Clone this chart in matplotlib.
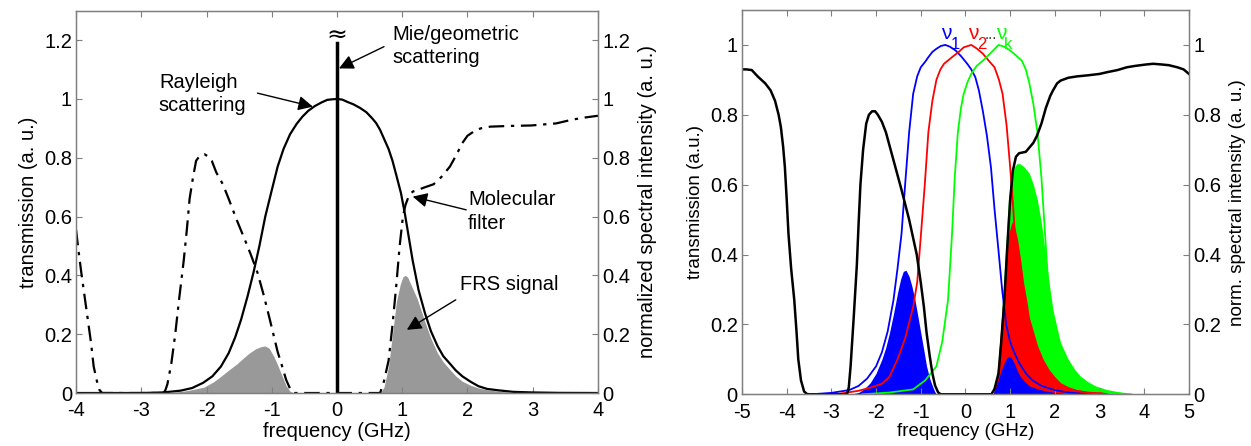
import matplotlib
matplotlib.use("Agg")
import matplotlib.pyplot as plt

plt.rcParams['font.family'] = ['Liberation Sans', 'DejaVu Sans']

# ---------------- left panel data (frequency in GHz) ----------------
ray_x = [-4, -3, -2.66, -2.4, -2.22, -2.05, -1.91, -1.78, -1.66, -1.56, -1.47, -1.37,
         -1.28, -1.19, -1.1, -1.0, -0.91, -0.82, -0.72, -0.62, -0.53, -0.44, -0.34,
         -0.24, -0.15, -0.07, 0, 0.08, 0.16, 0.25, 0.35, 0.45, 0.54, 0.6, 0.66, 0.72,
         0.79, 0.85, 0.91, 0.98, 1.04, 1.1, 1.16, 1.25, 1.35, 1.44, 1.54, 1.63, 1.73,
         1.82, 1.92, 2.05, 2.17, 2.3, 2.48, 2.7, 2.98, 3.4, 4]
ray_y = [0, 0, 0.002, 0.008, 0.017, 0.035, 0.057, 0.09, 0.136, 0.19, 0.25, 0.33,
         0.41, 0.50, 0.60, 0.69, 0.77, 0.83, 0.88, 0.915, 0.94, 0.96, 0.976,
         0.988, 0.997, 0.999, 1.0, 0.998, 0.99, 0.982, 0.97, 0.955, 0.934, 0.918, 0.895, 0.865,
         0.83, 0.79, 0.74, 0.68, 0.61, 0.53, 0.45, 0.35, 0.27, 0.21, 0.16, 0.125, 0.10,
         0.077, 0.057, 0.038, 0.023, 0.014, 0.009, 0.004, 0.002, 0.0005, 0]

filt_x = [-4, -3.96, -3.92, -3.87, -3.82, -3.77, -3.73, -3.68, -3.64, -3.6, -2.66, -2.63,
          -2.6, -2.54, -2.48, -2.42, -2.35, -2.3, -2.26, -2.21, -2.16, -2.11, -2.07, -2.03,
          -1.98, -1.92, -1.85, -1.75, -1.66, -1.54, -1.41, -1.32, -1.22, -1.12, -1.03, -0.97,
          -0.91, -0.84, -0.78, -0.72, -0.66, 0.66, 0.72, 0.79, 0.85, 0.91, 0.96, 1.01, 1.05,
          1.1, 1.16, 1.23, 1.35, 1.48, 1.6, 1.73, 1.83, 1.92, 2.0, 2.1, 2.2, 2.35, 2.6,
          2.98, 3.36, 3.61, 3.8, 4]
filt_y = [0.555, 0.48, 0.41, 0.33, 0.25, 0.17, 0.09, 0.04, 0.01, 0, 0, 0.01,
          0.03, 0.1, 0.2, 0.32, 0.45, 0.56, 0.66, 0.73, 0.79, 0.805, 0.81, 0.812,
          0.805, 0.79, 0.75, 0.71, 0.66, 0.59, 0.52, 0.47, 0.41, 0.33, 0.25, 0.195,
          0.14, 0.09, 0.045, 0.015, 0, 0, 0.04, 0.11, 0.23, 0.37, 0.5, 0.60, 0.64,
          0.67, 0.685, 0.69, 0.70, 0.71, 0.735, 0.77, 0.81, 0.85, 0.875, 0.89, 0.9, 0.906, 0.908,
          0.91, 0.917, 0.93, 0.937, 0.943]

frs_x = [-2.6, -2.3, -2.04, -1.9, -1.79, -1.66, -1.53, -1.44, -1.35, -1.25, -1.16, -1.1,
         -1.04, -0.97, -0.9, -0.84, -0.78, -0.72, -0.66,
         0.66, 0.72, 0.79, 0.85, 0.91, 0.97, 1.01, 1.04, 1.08, 1.13, 1.18, 1.23, 1.29,
         1.35, 1.44, 1.54, 1.63, 1.73, 1.82, 1.92, 2.05, 2.17, 2.3, 2.48, 2.79]
frs_y = [0, 0.008, 0.02, 0.037, 0.055, 0.078, 0.10, 0.118, 0.135, 0.15, 0.158, 0.16,
         0.152, 0.125, 0.09, 0.057, 0.025, 0.006, 0,
         0, 0.02, 0.09, 0.2, 0.31, 0.37, 0.395, 0.40, 0.395, 0.37, 0.345, 0.32, 0.28,
         0.24, 0.185, 0.136, 0.105, 0.08, 0.058, 0.04, 0.026, 0.017, 0.011, 0.006, 0]

left_yticks = [0, 0.2, 0.4, 0.6, 0.8, 1, 1.2]
left_ylabels = ['0', '0.2', '0.4', '0.6', '0.8', '1', '1.2']
left_xticks = [-4, -3, -2, -1, 0, 1, 2, 3, 4]

# ---------------- right panel data ----------------
blk_x = [-5, -4.9, -4.78, -4.65, -4.48, -4.36, -4.26, -4.18, -4.13, -4.08, -4.04, -4.0,
         -3.96, -3.9, -3.83, -3.78, -3.74, -3.68, -3.61, -3.55, -3.5,
         -2.65, -2.61, -2.57, -2.5, -2.43, -2.39, -2.35, -2.29, -2.22, -2.16, -2.09, -2.02,
         -1.96, -1.87, -1.78, -1.61, -1.43, -1.26, -1.09, -1.0, -0.93, -0.87, -0.8, -0.74,
         -0.68, -0.61, -0.55,
         0.58, 0.65, 0.7, 0.74, 0.8, 0.87, 0.93, 1.0, 1.06, 1.13, 1.2, 1.35, 1.52, 1.6,
         1.7, 1.8, 1.9, 1.96, 2.05, 2.13, 2.3, 2.5, 2.74, 3.0, 3.17, 3.4, 3.61, 3.8, 4.04,
         4.2, 4.39, 4.55, 4.74, 4.88, 5]
blk_y = [0.93, 0.93, 0.928, 0.91, 0.89, 0.87, 0.84, 0.80, 0.765, 0.71, 0.65, 0.56,
         0.46, 0.36, 0.27, 0.18, 0.10, 0.04, 0.008, 0.001, 0,
         0, 0.02, 0.08, 0.22, 0.37, 0.49, 0.60, 0.70, 0.775, 0.80, 0.81, 0.81,
         0.80, 0.78, 0.75, 0.67, 0.585, 0.50, 0.40, 0.32, 0.25, 0.176, 0.11, 0.06,
         0.025, 0.005, 0,
         0, 0.015, 0.04, 0.06, 0.15, 0.27, 0.41, 0.556, 0.64, 0.68, 0.69, 0.694, 0.72, 0.74,
         0.775, 0.82, 0.855, 0.87, 0.89, 0.898, 0.906, 0.91, 0.913, 0.917, 0.922, 0.928, 0.936,
         0.94, 0.944, 0.946, 0.944, 0.942, 0.936, 0.93, 0.917]

nu1_x = [-3.43, -3.0, -2.6, -2.39, -2.2, -2.0, -1.87, -1.74, -1.61, -1.52, -1.43, -1.35,
         -1.26, -1.17, -1.08, -1.0, -0.9, -0.83, -0.74, -0.65, -0.55, -0.45, -0.35, -0.22,
         -0.1, 0.04, 0.13, 0.22, 0.3, 0.39, 0.48, 0.57, 0.65, 0.74, 0.82, 0.91, 1.0, 1.09,
         1.2, 1.35, 1.5, 1.7, 2.0, 2.3, 2.8]
nu1_y = [0, 0.004, 0.012, 0.024, 0.045, 0.08, 0.12, 0.18, 0.27, 0.36, 0.46, 0.6,
         0.75, 0.86, 0.91, 0.936, 0.952, 0.965, 0.98, 0.989, 0.997, 1.0, 0.995, 0.984,
         0.968, 0.946, 0.93, 0.908, 0.87, 0.81, 0.74, 0.65, 0.53, 0.41, 0.30, 0.20, 0.15, 0.12,
         0.09, 0.06, 0.04, 0.024, 0.012, 0.005, 0]

nu2_x = [-2.9, -2.39, -2.1, -1.87, -1.7, -1.52, -1.35, -1.17, -1.08, -1.0, -0.91, -0.83,
         -0.74, -0.65, -0.56, -0.48, -0.3, -0.15, -0.04, 0.13, 0.25, 0.39, 0.52, 0.65, 0.75,
         0.83, 0.92, 1.0, 1.07, 1.13, 1.2, 1.3, 1.4, 1.52, 1.7, 1.87, 2.1, 2.3, 2.7, 3.17]
nu2_y = [0, 0.01, 0.02, 0.03, 0.05, 0.10, 0.16, 0.25, 0.32, 0.45, 0.6, 0.75,
         0.84, 0.90, 0.93, 0.946, 0.965, 0.98, 0.993, 1.0, 0.99, 0.975, 0.955, 0.936, 0.9,
         0.86, 0.77, 0.65, 0.53, 0.41, 0.3, 0.185, 0.13, 0.10, 0.065, 0.043, 0.025, 0.014, 0.005, 0.002]

nuk_x = [-2.3, -1.7, -1.17, -0.9, -0.65, -0.52, -0.39, -0.3, -0.24, -0.17, -0.1, -0.04,
         0.05, 0.13, 0.25, 0.39, 0.55, 0.74, 0.87, 1.0, 1.13, 1.26, 1.35, 1.43, 1.52, 1.61,
         1.7, 1.78, 1.85, 1.91, 2.0, 2.13, 2.25, 2.39, 2.55, 2.74, 3.17, 3.7]
nuk_y = [0, 0.005, 0.014, 0.04, 0.08, 0.15, 0.27, 0.46, 0.62, 0.75, 0.82, 0.86,
         0.895, 0.917, 0.94, 0.955, 0.975, 1.0, 0.995, 0.984, 0.97, 0.955, 0.93, 0.89, 0.83, 0.75,
         0.62, 0.46, 0.32, 0.22, 0.15, 0.10, 0.07, 0.05, 0.035, 0.02, 0.005, 0]

fill1_x = [-2.6, -2.39, -2.26, -2.13, -2.0, -1.87, -1.78, -1.7, -1.61, -1.52, -1.45, -1.39,
           -1.33, -1.26, -1.2, -1.13, -1.06, -1.0, -0.93, -0.87, -0.8, -0.74, -0.69, -0.65,
           0.61, 0.68, 0.74, 0.8, 0.87, 0.92, 0.96, 1.02, 1.09, 1.15, 1.22, 1.32, 1.43, 1.6,
           1.78, 2.0, 2.3, 2.74]
fill1_y = [0, 0.005, 0.016, 0.033, 0.06, 0.10, 0.135, 0.176, 0.23, 0.29, 0.33, 0.352,
           0.355, 0.337, 0.31, 0.27, 0.22, 0.176, 0.125, 0.08, 0.045, 0.024, 0.008, 0,
           0, 0.02, 0.043, 0.068, 0.09, 0.103, 0.109, 0.105, 0.09, 0.07, 0.052, 0.037, 0.024, 0.016,
           0.01, 0.005, 0.002, 0]

fill2_x = [-2.3, -2.04, -1.85, -1.7, -1.56, -1.43, -1.35, -1.26, -1.17, -1.09, -1.02, -0.96,
           -0.9, -0.83, -0.74, -0.65,
           0.62, 0.68, 0.73, 0.78, 0.85, 0.91, 0.97, 1.04, 1.1, 1.17, 1.24, 1.3, 1.37, 1.43,
           1.52, 1.61, 1.74, 1.87, 2.0, 2.13, 2.3, 2.48, 2.8, 3.09, 3.17]
fill2_y = [0, 0.002, 0.007, 0.014, 0.026, 0.043, 0.055, 0.071, 0.085, 0.098, 0.097, 0.086,
           0.06, 0.033, 0.01, 0,
           0, 0.03, 0.09, 0.176, 0.29, 0.385, 0.46, 0.494, 0.48, 0.44, 0.38, 0.32, 0.27, 0.22,
           0.18, 0.14, 0.1, 0.071, 0.05, 0.033, 0.022, 0.014, 0.007, 0.003, 0]

fillk_x = [-1.7, -1.26, -1.09, -0.91, -0.74, 0.65, 0.7, 0.76, 0.83, 0.9, 0.96, 1.02, 1.09,
           1.15, 1.22, 1.32, 1.43, 1.52, 1.61, 1.7, 1.78, 1.87, 1.96, 2.05, 2.13, 2.3, 2.45,
           2.57, 2.75, 2.91, 3.15, 3.35, 3.74]
fillk_y = [0, 0.007, 0.014, 0.01, 0, 0, 0.005, 0.12, 0.27, 0.42, 0.556, 0.62, 0.65,
           0.66, 0.66, 0.65, 0.632, 0.6, 0.556, 0.49, 0.41, 0.32, 0.24, 0.19, 0.147, 0.10, 0.07,
           0.052, 0.035, 0.024, 0.014, 0.009, 0]

right_yticks = [0, 0.2, 0.4, 0.6, 0.8, 1]
right_ylabels = ['0', '0.2', '0.4', '0.6', '0.8', '1']
right_xticks = [-5, -4, -3, -2, -1, 0, 1, 2, 3, 4, 5]

FS = 14.5
SPINE = '#7f7f7f'
BLUE, RED, GREEN = (0, 0, 1), (1, 0, 0), (0, 1, 0)


def style(ax, xticks, yticks, ylabels, xlim, ylim):
    ax.set_xlim(xlim)
    ax.set_ylim(ylim)
    ax.set_xticks(xticks)
    ax.set_xticklabels([str(t) for t in xticks])
    ax.set_yticks(yticks)
    ax.set_yticklabels(ylabels)
    ax.tick_params(direction='in', length=4, width=0.8, color=SPINE,
                   labelsize=FS, top=True, right=False, pad=3)
    ax.tick_params(axis='x', pad=6)
    for s in ax.spines.values():
        s.set_color(SPINE)
        s.set_linewidth(1.0)


def right_axis(ax, ylim, yticks, ylabels, label, fs):
    axr = ax.twinx()
    axr.set_ylim(ylim)
    axr.set_yticks(yticks)
    axr.set_yticklabels(ylabels)
    axr.tick_params(direction='in', length=4, width=0.8, color=SPINE, labelsize=FS, pad=3)
    for s in axr.spines.values():
        s.set_color(SPINE)
    axr.set_ylabel(label, fontsize=fs, labelpad=6)
    return axr


fig = plt.figure(figsize=(12.51, 4.46), dpi=100)

# ---------------- left ----------------
ax1 = fig.add_axes([0.0608, 0.1188, 0.4172, 0.857])
ax1.fill_between(frs_x, frs_y, color='#999999', lw=0)
ax1.plot(filt_x, filt_y, color='k', lw=1.6, ls=(0, (7, 3, 1.5, 3)))
ax1.plot(ray_x, ray_y, color='k', lw=1.6)
ax1.plot([0, 0], [0, 1.19], color='k', lw=2.5)
ax1.text(0, 1.215, '≈', ha='center', va='center', fontsize=18, family='DejaVu Sans')
style(ax1, left_xticks, left_yticks, left_ylabels, (-4, 4), (0, 1.3))
ax1.set_xlabel('frequency (GHz)', fontsize=FS, labelpad=1)
ax1.set_ylabel('transmission (a. u.)', fontsize=FS, labelpad=4)

arrow = dict(arrowstyle='-|>', color='k', lw=1.0, mutation_scale=22, shrinkA=0, shrinkB=0)
ax1.text(-2.73, 1.017, 'Rayleigh\nscattering', fontsize=FS, va='center', ha='left',
         linespacing=1.3)
ax1.annotate('', xy=(-0.37, 0.974), xytext=(-1.22, 1.02), arrowprops=arrow)
ax1.text(0.85, 1.181, 'Mie/geometric\nscattering', fontsize=FS, va='center', ha='left',
         linespacing=1.3)
ax1.annotate('', xy=(0.03, 1.104), xytext=(0.72, 1.178), arrowprops=arrow)
ax1.text(2.01, 0.617, 'Molecular\nfilter', fontsize=FS, va='center', ha='left',
         linespacing=1.3)
ax1.annotate('', xy=(1.16, 0.668), xytext=(1.98, 0.623), arrowprops=arrow)
ax1.text(1.88, 0.368, 'FRS signal', fontsize=FS, va='center', ha='left')
ax1.annotate('', xy=(1.07, 0.215), xytext=(1.82, 0.317), arrowprops=arrow)

right_axis(ax1, (0, 1.3), left_yticks, left_ylabels,
           'normalized spectral intensity (a. u.)', FS)

# ---------------- right ----------------
ax2 = fig.add_axes([0.5931, 0.1160, 0.3573, 0.8616])
ax2.fill_between(fillk_x, fillk_y, color=GREEN, lw=0)
ax2.fill_between(fill2_x, fill2_y, color=RED, lw=0)
ax2.fill_between(fill1_x, fill1_y, color=BLUE, lw=0)
ax2.plot(nu1_x, nu1_y, color=BLUE, lw=1.3)
ax2.plot(nu2_x, nu2_y, color=RED, lw=1.3)
ax2.plot(nuk_x, nuk_y, color=GREEN, lw=1.3)
ax2.plot(blk_x, blk_y, color='k', lw=1.8)
style(ax2, right_xticks, right_yticks, right_ylabels, (-5, 5), (0, 1.1))
ax2.set_xlabel('frequency (GHz)', fontsize=FS - 1, labelpad=1)
ax2.set_ylabel('transmission (a.u.)', fontsize=FS - 1, labelpad=4)

# channel labels: nu with subscripts
ax2.text(-0.44, 1.033, 'ν', color=BLUE, fontsize=15, ha='center', va='center')
ax2.text(-0.23, 1.0, '1', color=BLUE, fontsize=12, ha='center', va='center')
ax2.text(0.175, 1.033, 'ν', color=RED, fontsize=15, ha='center', va='center')
ax2.text(0.37, 1.0, '2', color=RED, fontsize=12, ha='center', va='center')
ax2.text(0.56, 1.028, '...', color='#333333', fontsize=11, ha='center', va='center')
ax2.text(0.79, 1.033, 'ν', color=GREEN, fontsize=15, ha='center', va='center')
ax2.text(0.96, 1.0, 'k', color=GREEN, fontsize=12, ha='center', va='center')

right_axis(ax2, (0, 1.1), right_yticks, right_ylabels,
           'norm. spectral intensity (a. u.)', FS - 1)

fig.savefig('out.png', dpi=100)
